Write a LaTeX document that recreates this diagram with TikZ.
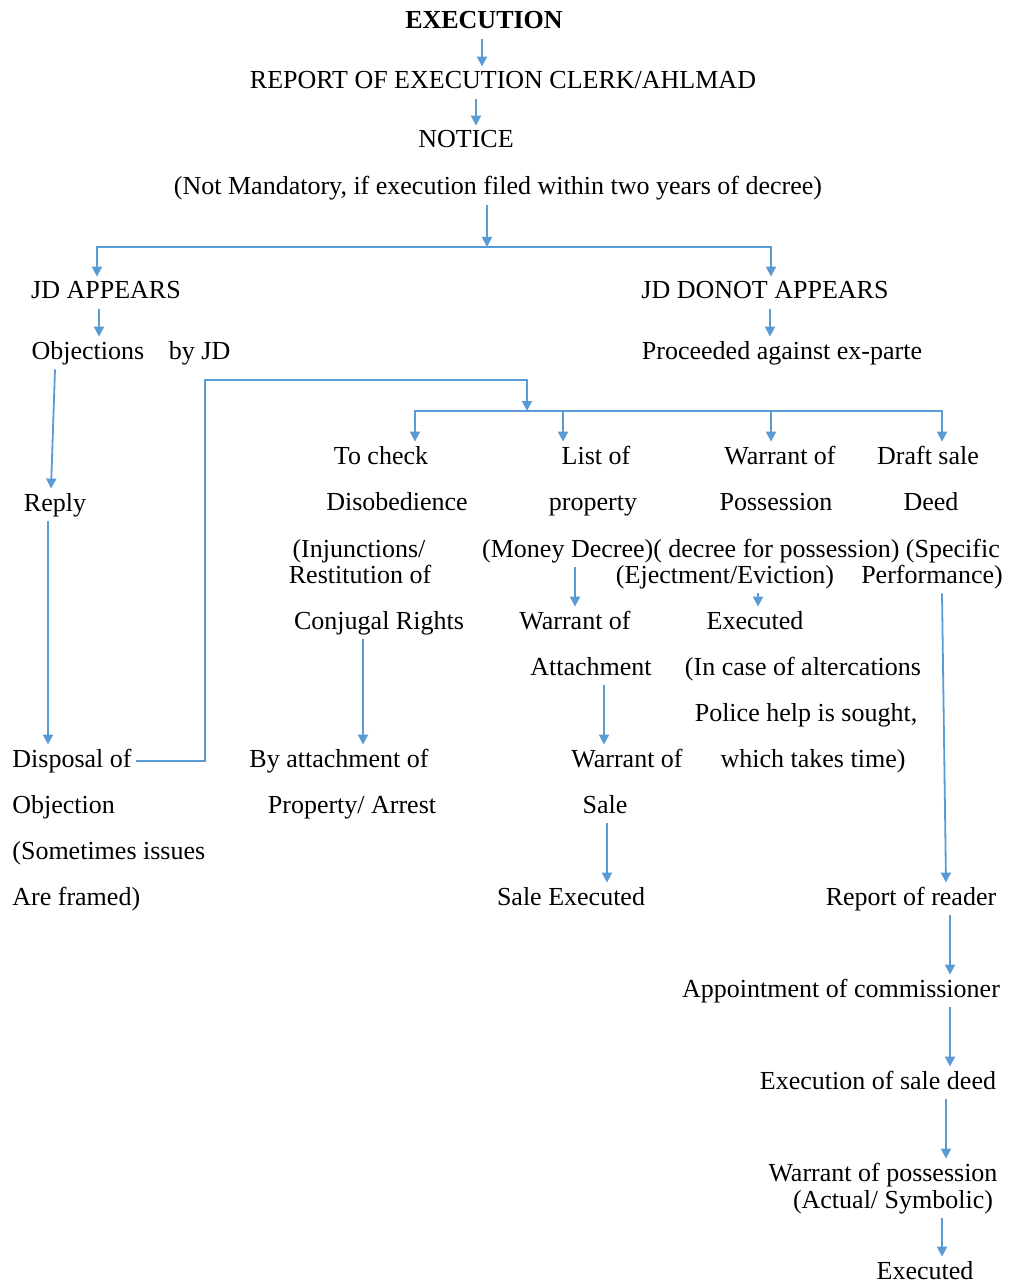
\documentclass[tikz,border=0pt]{standalone}
\usepackage{fontspec}
\setmainfont{Liberation Serif}
\usepackage{tikz}
\usepackage{xcolor}
\usetikzlibrary{arrows.meta}

\definecolor{flowblue}{RGB}{91,155,213}

\tikzset{
  txt/.style={inner sep=2pt, text height=9pt, text depth=3pt, yshift=-1.5pt, font=\fontsize{13}{15}\selectfont},
  flow/.style={draw=flowblue, line width=0.9pt, -{Triangle[width=5pt,length=5pt]}}
}

\begin{document}
\begin{tikzpicture}[x=0.5pt, y=-0.5pt, every node/.style={txt}]
                \useasboundingbox (0,0) rectangle (1009,1283);

                \node[font=\fontsize{13}{15}\selectfont\bfseries] (ex) at (484, 20) {EXECUTION};
                \node[] (rep) at (503, 80) {REPORT OF EXECUTION CLERK/AHLMAD};
                \node[] (notice) at (466, 139) {NOTICE};
                \node[] (note) at (498, 186) {(Not Mandatory, if execution filed within two years of decree)};

                \node[] (jd_a) at (106, 290) {JD APPEARS};
                \node[] (jd_n) at (765, 290) {JD DONOT APPEARS};
                \node[] (obj) at (131, 350) {Objections\hspace{0.95em}by JD};
                \node[] (proc) at (782, 350) {Proceeded against ex-parte};
                \node[] (reply) at (55, 502) {Reply};

                \node[anchor=west] (disp_a) at (8, 758) {Disposal of};
                \node[anchor=west] (disp_b) at (8, 804) {Objection};
                \node[anchor=west] (disp_c) at (8, 850) {(Sometimes issues};
                \node[anchor=west] (disp_d) at (8, 896) {Are framed)};

                \node[] (chk_a) at (381, 455) {To check};
                \node[] (chk_b) at (397, 501) {Disobedience};
                \node[] (chk_c) at (359, 548) {(Injunctions/};
                \node[] (chk_d) at (360, 574) {Restitution of};
                \node[] (chk_e) at (379, 620) {Conjugal Rights};
                \node[] (att_a) at (339, 758) {By attachment of};
                \node[] (att_b) at (352, 804) {Property/ Arrest};

                \node[] (lst_a) at (596, 455) {List of};
                \node[] (lst_b) at (593, 501) {property};
                \node[] (mline) at (741, 548) {(Money Decree)( decree for possession) (Specific};
                \node[] (wat_a) at (575, 620) {Warrant of};
                \node[] (wat_b) at (591, 666) {Attachment};
                \node[] (ws_a) at (627, 758) {Warrant of};
                \node[] (ws_b) at (605, 804) {Sale};
                \node[] (sale) at (571, 896) {Sale Executed};

                \node[] (pos_a) at (780, 455) {Warrant of};
                \node[] (pos_b) at (776, 501) {Possession};
                \node[] (eject) at (725, 574) {(Ejectment/Eviction)};
                \node[] (exd) at (755, 620) {Executed};
                \node[] (alt_a) at (803, 666) {(In case of altercations};
                \node[] (alt_b) at (806, 712) {Police help is sought,};
                \node[] (alt_c) at (813, 758) {which takes time)};

                \node[] (drf_a) at (928, 455) {Draft sale};
                \node[] (drf_b) at (931, 501) {Deed};
                \node[] (perf) at (932, 574) {Performance)};
                \node[] (rdr) at (911, 896) {Report of reader};
                \node[] (app) at (841, 988) {Appointment of commissioner};
                \node[] (esd) at (878, 1080) {Execution of sale deed};
                \node[] (wpo_a) at (883, 1172) {Warrant of possession};
                \node[] (wpo_b) at (893, 1199) {(Actual/ Symbolic)};
                \node[] (fin) at (925, 1270) {Executed};

                \coordinate (split) at (487, 244);
                \coordinate (loop) at (205, 377);
                \coordinate (hub) at (527, 408);

                \draw[flow] (ex.south -| 482,0) -- (rep.north -| 482,0);
                \draw[flow] (rep.south -| 476,0) -- (notice.north -| 476,0);
                \draw[flow] (note.south -| split) -- (split);
                \draw[flow] (split) -| (jd_a.north -| 97,0);
                \draw[flow] (split) -| (jd_n.north -| 771,0);
                \draw[flow] (jd_a.south -| 99,0) -- (obj.north -| 99,0);
                \draw[flow] (jd_n.south -| 770,0) -- (proc.north -| 770,0);
                \draw[flow] (obj.south -| 55,0) -- (reply.north -| 51,0);
                \draw[flow] (reply.south -| 48,0) -- (disp_a.north -| 48,0);
                \draw[flow] (disp_a.east) -| (loop) -| (hub);
                \draw[flow] (hub) -| (chk_a.north -| 415,0);
                \draw[flow] (hub) -| (lst_a.north -| 563,0);
                \draw[flow] (hub) -| (pos_a.north -| 771,0);
                \draw[flow] (hub) -| (drf_a.north -| 942,0);
                \draw[flow] (chk_e.south -| 363,0) -- (att_a.north -| 363,0);
                \draw[flow] (mline.south -| 575,0) -- (wat_a.north -| 575,0);
                \draw[flow] (wat_b.south -| 604,0) -- (ws_a.north -| 604,0);
                \draw[flow] (ws_b.south -| 607,0) -- (sale.north -| 607,0);
                \draw[flow] (eject.south -| 758,0) -- (exd.north -| 758,0);
                \draw[flow] (perf.south -| 942,0) -- (rdr.north -| 946,0);
                \draw[flow] (rdr.south -| 950,0) -- (app.north -| 950,0);
                \draw[flow] (app.south -| 950,0) -- (esd.north -| 950,0);
                \draw[flow] (esd.south -| 946,0) -- (wpo_a.north -| 946,0);
                \draw[flow] (wpo_b.south -| 942,0) -- (fin.north -| 942,0);
            \end{tikzpicture}
\end{document}
